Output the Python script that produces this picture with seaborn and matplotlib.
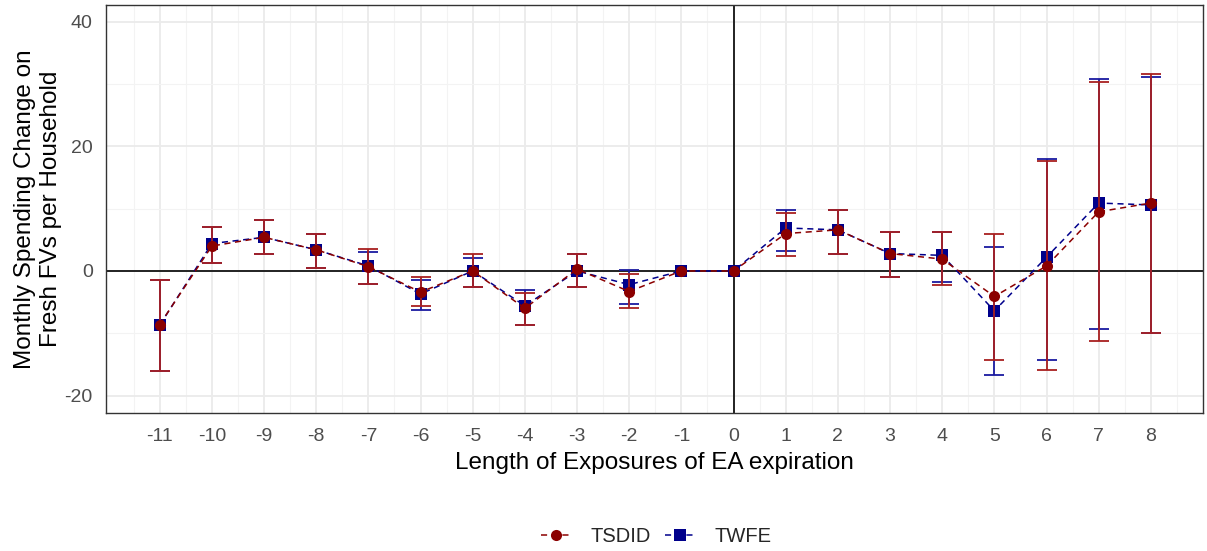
import numpy as np
import pandas as pd
import matplotlib
matplotlib.use("Agg")
import matplotlib.pyplot as plt
import seaborn as sns
from matplotlib.lines import Line2D

# ---- data ----
periods = [-11, -10, -9, -8, -7, -6, -5, -4, -3, -2, -1, 0, 1, 2, 3, 4, 5, 6, 7, 8]

tsdid_est = [-8.6, 4.0, 5.4, 3.4, 0.7, -3.4, 0.0, -6.0, 0.3, -3.3, 0.0, 0.0, 6.0, 6.6, 2.8, 1.9, -4.1, 0.8, 9.5, 10.9]
tsdid_lo = [-16.1, 1.2, 2.7, 0.5, -2.1, -5.7, -2.6, -8.7, -2.6, -6.0, np.nan, np.nan, 2.4, 2.8, -0.9, -2.3, -14.3, -15.9, -11.3, -10.0]
tsdid_hi = [-1.5, 7.0, 8.1, 6.0, 3.5, -0.9, 2.7, -3.6, 2.7, -0.5, np.nan, np.nan, 9.3, 9.8, 6.2, 6.2, 5.9, 17.6, 30.4, 31.6]

twfe_est = [-8.7, 4.4, 5.4, 3.4, 0.8, -3.7, 0.0, -5.6, 0.0, -2.2, 0.0, 0.0, 6.9, 6.6, 2.8, 2.5, -6.4, 2.2, 10.9, 10.6]
twfe_lo = [-16.1, 1.2, 2.7, 0.5, -2.1, -6.3, -2.6, -8.7, -2.6, -5.3, np.nan, np.nan, 3.2, 2.8, -0.9, -1.7, -16.7, -14.3, -9.3, -10.0]
twfe_hi = [-1.5, 7.0, 8.1, 6.0, 3.0, -1.4, 2.1, -3.0, 2.7, 0.2, np.nan, np.nan, 9.8, 9.8, 6.2, 6.2, 3.8, 17.9, 30.8, 31.2]

methods = ["TSDID", "TWFE"]

df = pd.concat([
    pd.DataFrame({"period": periods, "est": tsdid_est, "lo": tsdid_lo, "hi": tsdid_hi, "method": "TSDID"}),
    pd.DataFrame({"period": periods, "est": twfe_est, "lo": twfe_lo, "hi": twfe_hi, "method": "TWFE"}),
], ignore_index=True)

# ---- style ----
sns.set_theme(style="whitegrid")
plt.rcParams["font.family"] = ["Liberation Sans", "DejaVu Sans"]
plt.rcParams["axes.unicode_minus"] = False

colors = {"TSDID": "#8B0000", "TWFE": "#00008B"}
err_colors = {"TSDID": "#A82020", "TWFE": "#1A1AA0"}
markers = {"TSDID": "o", "TWFE": "s"}

fig = plt.figure(figsize=(12.07, 5.51), dpi=100)
ax = fig.add_axes([0.0878, 0.2505, 0.9089, 0.7405])

# draw TWFE first, TSDID on top
for i, m in enumerate(["TWFE", "TSDID"]):
    sub = df[df.method == m]
    eb = sub[sub.lo.notna()]
    ax.errorbar(eb.period, eb.est,
                yerr=[eb.est - eb.lo, eb.hi - eb.est],
                fmt="none", ecolor=err_colors[m], elinewidth=1.3,
                capsize=7, capthick=1.3, zorder=3 + 2 * i)
    sns.lineplot(data=sub, x="period", y="est", color=colors[m], marker=markers[m],
                 linestyle=(0, (4, 3)), markersize=8, markeredgewidth=0,
                 linewidth=1.1, ax=ax, legend=False, zorder=4 + 2 * i)

ax.axhline(0, color="black", linewidth=1.2, zorder=2)
ax.axvline(0, color="black", linewidth=1.2, zorder=2)

ax.set_xlim(-12.03, 9.0)
ax.set_ylim(-22.8, 42.7)
ax.set_xticks(periods)
ax.set_xticklabels([str(p) for p in periods])
ax.set_yticks([-20, 0, 20, 40])
ax.set_yticklabels(["-20", "0", "20", "40"])
ax.set_xticks(np.arange(-11.5, 9, 1.0), minor=True)
ax.set_yticks([-10, 10, 30], minor=True)

ax.grid(which="major", color="#EBEBEB", linewidth=1.3)
ax.grid(which="minor", color="#F3F3F3", linewidth=0.8)
ax.set_axisbelow(True)
for s in ax.spines.values():
    s.set_color("#333333")
    s.set_linewidth(1.0)

ax.tick_params(axis="both", which="major", length=4.5, width=1.0, color="#333333",
               labelsize=14, labelcolor="#4D4D4D")
ax.tick_params(axis="x", which="major", pad=6)
ax.tick_params(axis="y", which="major", pad=5)
ax.tick_params(axis="both", which="minor", length=0)

ax.set_xlabel("Length of Exposures of EA expiration", fontsize=17.5, color="black", labelpad=5)
ax.set_ylabel("Monthly Spending Change on\nFresh FVs per Household", fontsize=17.5,
              color="black", labelpad=2, linespacing=1.2)

handles = [Line2D([0], [0], color=colors[m], linestyle=(0, (4, 3)), linewidth=1.1,
                  marker=markers[m], markersize=8, markeredgewidth=0) for m in methods]
fig.legend(handles, methods, loc="center", bbox_to_anchor=(0.5435, 0.027), ncol=2,
           frameon=False, fontsize=14.5, handlelength=1.5, columnspacing=0.7,
           handletextpad=0.95)

fig.savefig("out.png", dpi=100)
